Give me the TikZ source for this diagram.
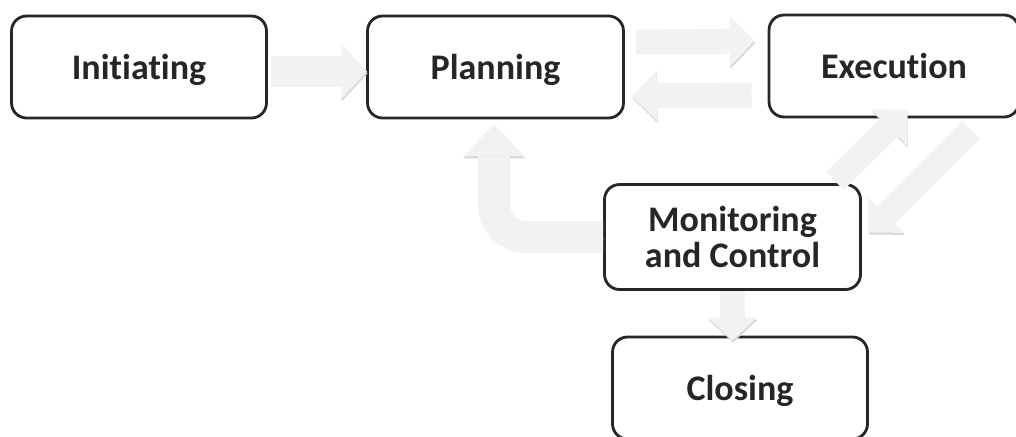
\documentclass[tikz,border=0pt]{standalone}
\usepackage{fontspec}
\setmainfont{Carlito}[Ligatures=NoCommon]
\usetikzlibrary{arrows.meta, calc}

\definecolor{boxline}{HTML}{262626}
\definecolor{blkfill}{HTML}{F2F2F2}
\definecolor{blkshade}{HTML}{D6D6D6}

\begin{document}
\begin{tikzpicture}[
  x=0.02cm, y=-0.02cm,
  font=\bfseries\fontsize{20.5}{20}\selectfont,
  phase/.style={draw=boxline, line width=1.6pt, rounded corners=0.3cm, text=boxline,
    align=center, inner sep=0pt, minimum height=2.04cm},
  onephase/.style={phase, text height=15pt, text depth=1pt},
  blk/.style={draw=blkfill, line width=0.5cm,
    -{Triangle[length=0.5cm, width=1.02cm, line width=0pt]},
    preaction={draw=blkshade, transform canvas={xshift=0.01cm, yshift=-0.04cm}}},
]
\useasboundingbox (0,0) rectangle (1016,436);

% --- process phases ---
\node[onephase, minimum width=5.1cm]  (init)  at (139,67)    {Initiating};
\node[onephase, minimum width=5.12cm] (plan)  at (495.5,67)  {Planning};
\node[onephase, minimum width=5cm]    (exec)  at (894,66)    {Execution};
\node[phase, minimum width=5.12cm, minimum height=2.1cm]
                                      (mon)   at (732.5,237) {Monitoring\\and Control};
\node[onephase, minimum width=5.1cm]  (close) at (740,388)   {Closing};

% --- block arrows between the phases ---
\draw[blk, line width=0.62cm, -{Triangle[length=0.52cm, width=1.12cm, line width=0pt]}]
  ($(init.east)+(3,4.5)$) -- ($(plan.west)+(1,4.5)$);
\draw[blk] ($(plan.east)+(11,-25)$) -- ($(exec.west)+(-13,-25)$);
\draw[blk] ($(exec.west)+(-16,29)$) -- ($(plan.east)+(7,29)$);

% diagonal pair between execution and monitoring
\draw[blk] ($(mon.north east)+(-27,-2)$) -- ($(exec.south)+(13,-8.5)$);
\draw[blk] ($(exec.south)+(77,11.5)$) -- ($(mon.east)+(6.5,-4.5)$);

% down to closing, and the loop back to planning
\draw[blk, -{Triangle[length=0.46cm, width=0.98cm, line width=0pt]}]
  (mon.south) -- ($(mon.south |- close.north)+(0,5)$);
\draw[blk, line width=0.64cm, rounded corners=0.64cm,
  -{Triangle[length=0.64cm, width=1.24cm, line width=0pt]}]
  (mon.west) -| ($(plan.south)+(-1.5,5)$);

\end{tikzpicture}
\end{document}
